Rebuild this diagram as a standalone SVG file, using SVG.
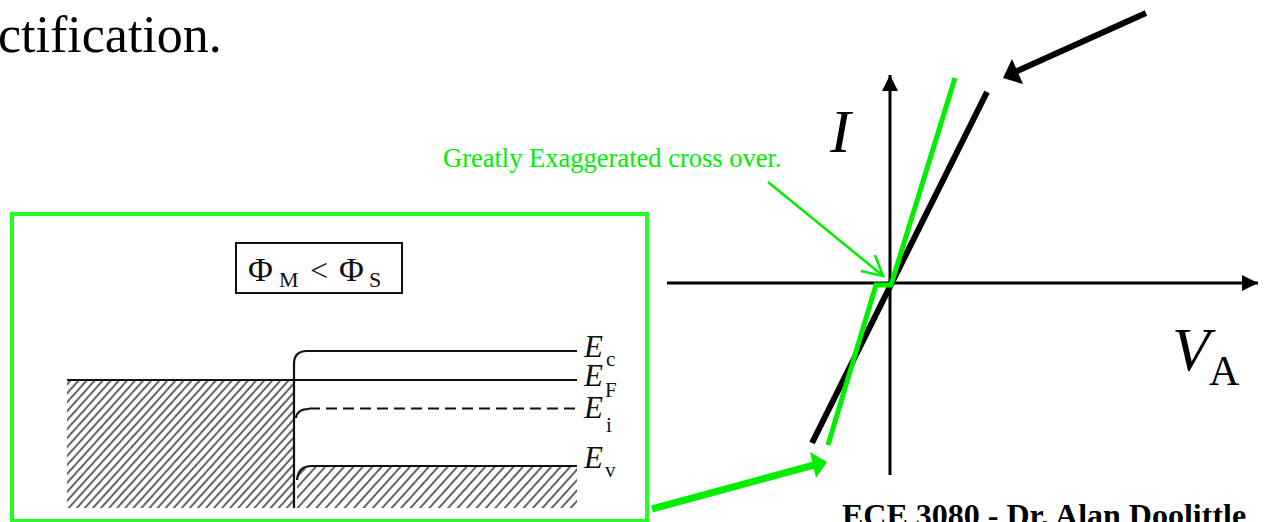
<svg xmlns="http://www.w3.org/2000/svg" width="1266" height="522" viewBox="0 0 1266 522">
<style>
  .serif { font-family: "Liberation Serif", "Times New Roman", serif; }
  .band { fill: none; stroke: #111; stroke-width: 2.2; }
  .axis { stroke: #000; stroke-width: 3; fill: none; }
  .grn { fill: #00ee00; }
</style>
<defs>
  <pattern id="hatchM" patternUnits="userSpaceOnUse" width="6" height="10" patternTransform="rotate(42)">
    <line x1="1" y1="0" x2="1" y2="10" stroke="#111" stroke-width="1.3"/>
  </pattern>
  <pattern id="hatchS" patternUnits="userSpaceOnUse" width="7" height="10" patternTransform="rotate(42)">
    <line x1="1" y1="0" x2="1" y2="10" stroke="#111" stroke-width="1.3"/>
  </pattern>
  <marker id="axHead" viewBox="0 0 16 16" refX="16" refY="8" markerWidth="16" markerHeight="16" markerUnits="userSpaceOnUse" orient="auto">
    <path d="M0,0 L16,8 L0,16 Z" fill="#000"/>
  </marker>
</defs>
<rect width="1266" height="522" fill="#fff"/>

<text id="title" class="serif" x="-2" y="52" font-size="52" fill="#000">ctification.</text>

<g id="band-diagram">
  <rect x="12" y="214" width="635" height="307" fill="none" stroke="#22ff22" stroke-width="4"/>
  <g id="phi-box">
    <rect x="236" y="243" width="166" height="50" fill="none" stroke="#111" stroke-width="2"/>
    <text class="serif" font-size="34" fill="#111"><tspan x="248" y="281">Φ</tspan><tspan x="279" y="287" font-size="22">M</tspan><tspan x="310" y="281" font-size="32">&lt;</tspan><tspan x="339" y="281">Φ</tspan><tspan x="369" y="287" font-size="22">S</tspan></text>
  </g>
  <rect x="67" y="381" width="226" height="127" fill="url(#hatchM)"/>
  <path d="M297,508 L297,480 Q298,467 312,466 L577,466 L577,508 Z" fill="url(#hatchS)"/>
  <line class="band" x1="67" y1="380" x2="577" y2="380"/>
  <path class="band" d="M294,508 L294,364 Q294,351 307,351 L577,351"/>
  <path class="band" d="M296,418 Q297,409 309,409"/>
  <line class="band" x1="309" y1="408.5" x2="577" y2="408.5" stroke-dasharray="11 6"/>
  <path class="band" d="M297,480 Q298,466 312,466 L577,466"/>
  <g class="serif" fill="#111">
    <text x="584" y="357" font-size="31" font-style="italic">E</text>
    <text x="606" y="366" font-size="21">c</text>
    <text x="584" y="386" font-size="31" font-style="italic">E</text>
    <text x="605" y="397" font-size="21">F</text>
    <text x="584" y="418" font-size="31" font-style="italic">E</text>
    <text x="606" y="432" font-size="21">i</text>
    <text x="584" y="468" font-size="31" font-style="italic">E</text>
    <text x="605" y="477" font-size="21">v</text>
  </g>
</g>

<g id="iv-graph">
  <line class="axis" x1="667" y1="283" x2="1258" y2="283" marker-end="url(#axHead)"/>
  <line class="axis" x1="890" y1="475" x2="890" y2="75" marker-end="url(#axHead)"/>
  <line x1="812" y1="443" x2="987" y2="92" stroke="#000" stroke-width="6"/>
  <path d="M955,78 L891,285 L876,285 L828,445" fill="none" stroke="#00ee00" stroke-width="5"/>
  <text class="serif" x="830" y="152" font-size="62" font-style="italic" fill="#000">I</text>
  <text class="serif" x="1172" y="370" font-size="62" font-style="italic" fill="#000">V</text>
  <text class="serif" x="1209" y="385" font-size="42" fill="#000">A</text>
</g>

<g id="annotation">
  <text class="serif grn" x="443" y="167" font-size="26.5">Greatly Exaggerated cross over.</text>
</g>

<g id="footer">
  <text class="serif" x="842" y="526" font-size="32" font-weight="bold" fill="#000">ECE 3080 - Dr. Alan Doolittle</text>
</g>

<g id="connectors">
  <line x1="1146" y1="13" x2="1015" y2="72" stroke="#000" stroke-width="6"/>
  <path d="M1003,78 L1012,59 L1023,84 Z" fill="#000"/>
  <line x1="652" y1="509" x2="814" y2="465" stroke="#00ee00" stroke-width="7"/>
  <path d="M827,462 L810,452 L816,478 Z" fill="#00ee00"/>
  <line x1="768" y1="182" x2="882" y2="275" stroke="#00ee00" stroke-width="2.5"/>
  <path d="M875,255 L883,276 L861,271" fill="none" stroke="#00ee00" stroke-width="2.5"/>
</g>
</svg>
